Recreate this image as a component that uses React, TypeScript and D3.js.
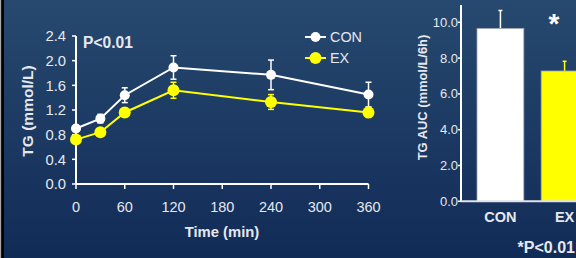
import React from "react"
import * as d3 from "d3"

const times = [0, 30, 60, 120, 240, 360]
const conMean = [0.9, 1.06, 1.44, 1.89, 1.77, 1.45]
const conErr = [0.05, 0.07, 0.12, 0.19, 0.24, 0.2]
const exMean = [0.72, 0.84, 1.16, 1.52, 1.33, 1.16]
const exErr = [0.04, 0.05, 0.07, 0.13, 0.12, 0.08]
const xTicks = [0, 60, 120, 180, 240, 300, 360]
const yTicks = [0, 0.4, 0.8, 1.2, 1.6, 2.0, 2.4]

const aucGroups = ["CON", "EX"]
const aucMean = [9.66, 7.28]
const aucErr = [1.0, 0.54]
const aucTicks = [0, 2, 4, 6, 8, 10]

const W = 576
const H = 258
const txt = "#e6e8ee"
const yellow = "#ffff00"
const font = "Arial, 'Liberation Sans', sans-serif"

const App: React.FC = () => {
  // line chart scales
  const x = d3.scaleLinear().domain([0, 360]).range([76, 368.5])
  const y = d3.scaleLinear().domain([0, 2.4]).range([184, 36])
  const line = d3.line<number>().x((_, i) => x(times[i])).y(d => y(d))

  // bar chart scales
  const yb = d3.scaleLinear().domain([0, 10]).range([201.3, 22.3])
  const xb = d3.scaleBand().domain(aucGroups).range([477, 588]).paddingInner(0.27).paddingOuter(0)

  const series = [
    { name: "CON", mean: conMean, err: conErr, color: "#ffffff", r: 5 },
    { name: "EX", mean: exMean, err: exErr, color: yellow, r: 6 },
  ]

  return (
    <svg width={W} height={H} style={{ position: "fixed", left: 0, top: 0 }} fontFamily={font}>
      <defs>
        <linearGradient id="bg" x1="0" y1="0" x2="0" y2="1">
          <stop offset="0%" stopColor="#27496f" />
          <stop offset="100%" stopColor="#112b57" />
        </linearGradient>
      </defs>
      <rect x={0} y={0} width={W} height={H} fill="url(#bg)" />
      <rect x={0} y={0} width={1.3} height={H} fill="#a8a8a8" />
      <rect x={1.3} y={0} width={2.7} height={H} fill="#000000" />

      {/* line chart */}
      <g>
        <line x1={76} x2={76} y1={36} y2={184} stroke="#fff" strokeWidth={2} />
        <line x1={76} x2={368.5} y1={184} y2={184} stroke="#fff" strokeWidth={2} />
        {yTicks.map(t => (
          <g key={t}>
            <line x1={72} x2={76} y1={y(t)} y2={y(t)} stroke="#fff" strokeWidth={1.5} />
            <text x={66} y={y(t)} dy="0.35em" textAnchor="end" fontSize={14.8} fill={txt}>{t.toFixed(1)}</text>
          </g>
        ))}
        {xTicks.map(t => (
          <g key={t}>
            <line x1={x(t)} x2={x(t)} y1={184} y2={189} stroke="#fff" strokeWidth={1.5} />
            <text x={x(t)} y={207} dy="0.35em" textAnchor="middle" fontSize={14.5} fill={txt}>{t}</text>
          </g>
        ))}
        <text x={222} y={232} dy="0.35em" textAnchor="middle" fontSize={14.8} fontWeight="bold" fill={txt}>Time (min)</text>
        <text transform="translate(28,111) rotate(-90)" dy="0.35em" textAnchor="middle" fontSize={15.5} fontWeight="bold" fill={txt}>TG (mmol/L)</text>
        <text x={83} y={47.5} fontSize={15.6} fontWeight="bold" fill={txt}>P&lt;0.01</text>

        {series.map(s => (
          <g key={s.name}>
            {s.mean.map((m, i) => (
              <g key={i} stroke={s.color} strokeWidth={1.5}>
                <line x1={x(times[i])} x2={x(times[i])} y1={y(m - s.err[i])} y2={y(m + s.err[i])} />
                <line x1={x(times[i]) - 3} x2={x(times[i]) + 3} y1={y(m + s.err[i])} y2={y(m + s.err[i])} />
                <line x1={x(times[i]) - 3} x2={x(times[i]) + 3} y1={y(m - s.err[i])} y2={y(m - s.err[i])} />
              </g>
            ))}
            <path d={line(s.mean) || ""} fill="none" stroke={s.color} strokeWidth={2} />
            {s.mean.map((m, i) => (
              <circle key={i} cx={x(times[i])} cy={y(m)} r={s.r} fill={s.color} />
            ))}
          </g>
        ))}

        {/* legend */}
        {series.map((s, i) => (
          <g key={s.name} transform={`translate(0,${37 + i * 21})`}>
            <line x1={305} x2={326} y1={0} y2={0} stroke={s.color} strokeWidth={2} />
            <circle cx={315.5} cy={0} r={s.r} fill={s.color} />
            <text x={330} y={0} dy="0.35em" fontSize={14.4} fill={txt}>{s.name}</text>
          </g>
        ))}
      </g>

      {/* bar chart */}
      <g>
        {aucGroups.map((g, i) => {
          const bx = xb(g) || 0
          const bw = xb.bandwidth()
          const cx = bx + bw / 2
          const col = i === 0 ? "#ffffff" : yellow
          return (
            <g key={g}>
              <line x1={cx} x2={cx} y1={yb(aucMean[i])} y2={yb(aucMean[i] + aucErr[i])} stroke={col} strokeWidth={1.5} />
              <line x1={cx - 2} x2={cx + 2} y1={yb(aucMean[i] + aucErr[i])} y2={yb(aucMean[i] + aucErr[i])} stroke={col} strokeWidth={1.5} />
              <rect x={bx} y={yb(aucMean[i])} width={bw} height={yb(0) - yb(aucMean[i])} fill={col} stroke="#9aa3b5" strokeWidth={0.8} />
              <text x={cx} y={217} dy="0.35em" textAnchor="middle" fontSize={14.5} fontWeight="bold" fill={txt}>{g}</text>
            </g>
          )
        })}
        <line x1={461} x2={461} y1={5} y2={201.3} stroke="#fff" strokeWidth={2} />
        <line x1={461} x2={576} y1={201.3} y2={201.3} stroke="#dfe3ea" strokeWidth={2} />
        {aucTicks.map(t => (
          <g key={t}>
            <line x1={458} x2={461} y1={yb(t)} y2={yb(t)} stroke="#fff" strokeWidth={1.5} />
            <text x={458} y={yb(t)} dy="0.35em" textAnchor="end" fontSize={13} fill={txt}>{t.toFixed(1)}</text>
          </g>
        ))}
        <text transform="translate(422,97.5) rotate(-90)" dy="0.35em" textAnchor="middle" fontSize={12.9} fontWeight="bold" fill={txt}>TG AUC (mmol/L/6h)</text>
        <text x={554} y={33} textAnchor="middle" fontSize={28} fontWeight="bold" fill="#ffffff">*</text>
        <text x={575} y={247} dy="0.35em" textAnchor="end" fontSize={16} fontWeight="bold" fill={txt}>*P&lt;0.01</text>
      </g>
    </svg>
  )
}

export default App
